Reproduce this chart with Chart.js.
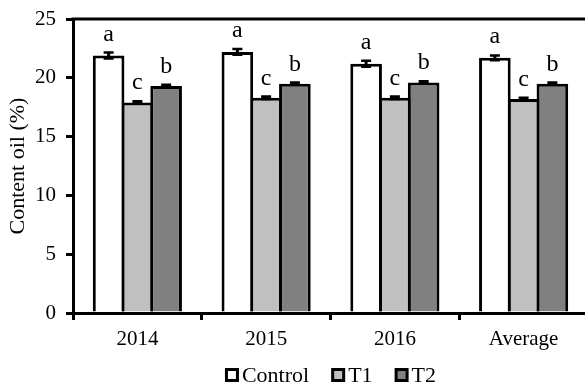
<!DOCTYPE html>
<html>
<head>
<meta charset="utf-8">
<script src="https://cdn.jsdelivr.net/npm/chart.js@4.4.1/dist/chart.umd.min.js"></script>
<style>
  html, body { margin: 0; padding: 0; overflow: hidden; background: #fff; }
  #wrap { width: 585px; height: 388px; overflow: hidden; }
  canvas { display: block; }
</style>
</head>
<body>
<div id="wrap"><canvas id="c" width="590" height="388"></canvas></div>
<script>
// Oil content by year and treatment
const categories = ['2014', '2015', '2016', 'Average'];
const seriesNames = ['Control', 'T1', 'T2'];
const controlValues = [21.9, 22.2, 21.2, 21.7];
const t1Values = [17.9, 18.3, 18.3, 18.2];
const t2Values = [19.3, 19.5, 19.6, 19.5];
const controlErrors = [0.25, 0.25, 0.25, 0.2];
const t1Errors = [0.1, 0.1, 0.1, 0.1];
const t2Errors = [0.1, 0.1, 0.1, 0.1];
const controlLetters = ['a', 'a', 'a', 'a'];
const t1Letters = ['c', 'c', 'c', 'c'];
const t2Letters = ['b', 'b', 'b', 'b'];
const yTicks = [0, 5, 10, 15, 20, 25];

const FONT = 'Liberation Serif, Times New Roman, serif';

const barStyle = {
  borderColor: '#000',
  borderWidth: 3,
  borderSkipped: 'start',
  barPercentage: 1.1,
  categoryPercentage: 0.67
};

// Error bars, significance letters, top frame edge and the legend row
const annotate = {
  id: 'annotate',
  afterDatasetsDraw(chart) {
    const ctx = chart.ctx;
    const y = chart.scales.y;
    ctx.save();
    chart.data.datasets.forEach((ds, di) => {
      const meta = chart.getDatasetMeta(di);
      meta.data.forEach((bar, i) => {
        const v = ds.data[i];
        const e = ds.errors[i];
        const hi = y.getPixelForValue(v + e);
        const lo = y.getPixelForValue(v - e);
        ctx.strokeStyle = '#000';
        ctx.lineWidth = 3;
        ctx.beginPath();
        ctx.moveTo(bar.x, lo);
        ctx.lineTo(bar.x, hi);
        ctx.stroke();
        ctx.lineWidth = 2.5;
        ctx.beginPath();
        ctx.moveTo(bar.x - 5, hi);
        ctx.lineTo(bar.x + 5, hi);
        ctx.moveTo(bar.x - 5, lo);
        ctx.lineTo(bar.x + 5, lo);
        ctx.stroke();
        ctx.fillStyle = '#000';
        ctx.font = '24px ' + FONT;
        ctx.textAlign = 'center';
        ctx.textBaseline = 'alphabetic';
        ctx.fillText(ds.letters[i], bar.x, hi - 12);
      });
    });
    const a = chart.chartArea;
    ctx.strokeStyle = '#000';
    ctx.lineWidth = 3;
    ctx.beginPath();
    ctx.moveTo(a.left - 1.5, a.top);
    ctx.lineTo(a.right, a.top);
    ctx.stroke();

    // legend below the axis
    ctx.font = '22px ' + FONT;
    ctx.textBaseline = 'middle';
    ctx.textAlign = 'left';
    const box = 11, gapText = 3, gapItem = 22;
    const items = chart.data.datasets.map(ds => ({
      label: ds.label, fill: ds.backgroundColor, w: ctx.measureText(ds.label).width
    }));
    const total = items.reduce((s, it) => s + box + 3 + gapText + it.w, 0) + gapItem * (items.length - 1);
    let x = (a.left + a.right) / 2 - total / 2;
    const cy = a.bottom + 62;
    items.forEach(it => {
      ctx.fillStyle = it.fill;
      ctx.fillRect(x + 1.5, cy - box / 2, box, box);
      ctx.strokeStyle = '#000';
      ctx.lineWidth = 3;
      ctx.strokeRect(x + 1.5, cy - box / 2, box, box);
      x += box + 3 + gapText;
      ctx.fillStyle = '#000';
      ctx.fillText(it.label, x, cy + 1);
      x += it.w + gapItem;
    });
    ctx.restore();
  }
};

new Chart(document.getElementById('c'), {
  type: 'bar',
  data: {
    labels: categories,
    datasets: [
      Object.assign({ label: seriesNames[0], data: controlValues, errors: controlErrors, letters: controlLetters, backgroundColor: '#ffffff' }, barStyle),
      Object.assign({ label: seriesNames[1], data: t1Values, errors: t1Errors, letters: t1Letters, backgroundColor: '#c0c0c0' }, barStyle),
      Object.assign({ label: seriesNames[2], data: t2Values, errors: t2Errors, letters: t2Letters, backgroundColor: '#808080' }, barStyle)
    ]
  },
  options: {
    responsive: false,
    animation: false,
    devicePixelRatio: 1,
    layout: { padding: { top: 19, right: 2, left: 0, bottom: 0 } },
    plugins: {
      legend: { display: false },
      tooltip: { enabled: false }
    },
    scales: {
      x: {
        grid: { display: true, drawOnChartArea: false, drawTicks: true, tickLength: 7, color: '#000', lineWidth: 3, offset: true },
        border: { display: true, color: '#000', width: 3 },
        ticks: { color: '#000', font: { family: FONT, size: 21 }, padding: 7 },
        afterFit(scale) { scale.height = 75; scale.paddingLeft = 0; scale.paddingRight = 0; }
      },
      y: {
        min: 0,
        max: 25,
        afterBuildTicks(scale) { scale.ticks = yTicks.map(v => ({ value: v })); },
        grid: { display: true, drawOnChartArea: false, drawTicks: true, tickLength: 7, color: '#000', lineWidth: 3 },
        border: { display: true, color: '#000', width: 3 },
        ticks: { color: '#000', font: { family: FONT, size: 21 }, padding: 10 },
        title: { display: true, text: 'Content oil (%)', color: '#000', font: { family: FONT, size: 22 }, padding: { top: 5, bottom: 0 } },
        afterFit(scale) { scale.width = 73; scale.paddingTop = 0; scale.paddingBottom = 0; }
      }
    }
  },
  plugins: [annotate]
});
</script>
</body>
</html>
